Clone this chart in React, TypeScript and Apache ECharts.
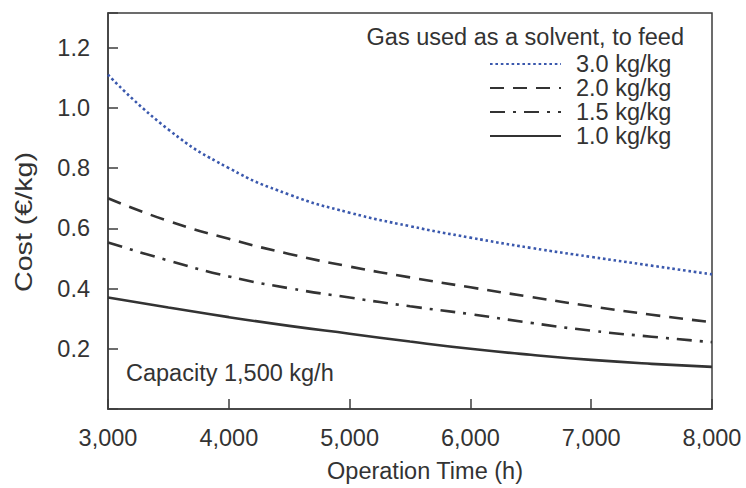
import React, { useEffect, useRef } from "react";
import * as echarts from "echarts";

const hours = [3000, 3500, 4000, 4500, 5000, 5500, 6000, 6500, 7000, 7500, 8000];
const gas30 = [1.11, 0.928, 0.8, 0.712, 0.652, 0.607, 0.569, 0.535, 0.505, 0.476, 0.447];
const gas20 = [0.7, 0.624, 0.565, 0.515, 0.473, 0.437, 0.404, 0.372, 0.341, 0.313, 0.288];
const gas15 = [0.553, 0.493, 0.44, 0.401, 0.37, 0.341, 0.315, 0.286, 0.26, 0.24, 0.222];
const gas10 = [0.37, 0.337, 0.305, 0.276, 0.25, 0.224, 0.2, 0.18, 0.163, 0.15, 0.14];
const seriesNames = ["3.0 kg/kg", "2.0 kg/kg", "1.5 kg/kg", "1.0 kg/kg"];
const legendTitle = "Gas used as a solvent, to feed";
const noteText = "Capacity 1,500 kg/h";
const xName = "Operation Time (h)";
const yName = "Cost (€/kg)";

const FONT = "Liberation Sans, Arial, Helvetica, sans-serif";
const FS = 23.5;
const TEXT = "#333333";
const AXIS = "#3d3d3d";

function pairs(vals: number[]) {
  return hours.map((h, i) => [h, vals[i]]);
}

export default function App() {
  const ref = useRef<HTMLDivElement>(null);
  useEffect(() => {
    if (!ref.current) return;
    const chart = echarts.init(ref.current, null, { renderer: "svg" });
    const styles = [
      { color: "#3a58ad", type: [2.6, 2.8], width: 2.6 },
      { color: "#333333", type: [14, 9], width: 2.6 },
      { color: "#333333", type: [15, 8, 3, 8], width: 2.6 },
      { color: "#333333", type: "solid", width: 2.6 },
    ];
    const datasets = [gas30, gas20, gas15, gas10];
    chart.setOption({
      animation: false,
      textStyle: { fontFamily: FONT, color: TEXT },
      grid: {
        left: 108,
        right: 34,
        top: 13,
        bottom: 78,
        show: true,
        borderColor: AXIS,
        borderWidth: 1.5,
        backgroundColor: "transparent",
      },
      legend: {
        orient: "vertical",
        left: 484,
        top: 47,
        itemWidth: 71,
        itemHeight: 14,
        itemGap: 0,
        data: seriesNames,
        itemStyle: { opacity: 0 },
        textStyle: {
          fontFamily: FONT,
          fontSize: FS,
          color: TEXT,
          lineHeight: 24,
          padding: [0, 0, 0, 10],
        },
      },
      xAxis: {
        type: "value",
        min: 3000,
        max: 8000,
        interval: 1000,
        name: xName,
        nameLocation: "middle",
        nameGap: 50,
        nameTextStyle: { fontSize: FS, color: TEXT, fontFamily: FONT, padding: [0, 0, 0, 30] },
        axisLine: { show: true, lineStyle: { color: AXIS, width: 1.5 } },
        axisTick: { show: true, inside: true, length: 10, lineStyle: { color: AXIS, width: 1.5 } },
        axisLabel: {
          fontSize: FS,
          color: TEXT,
          fontFamily: FONT,
          margin: 17,
          formatter: (v: number) => v.toLocaleString("en-US"),
        },
        splitLine: { show: false },
      },
      yAxis: {
        type: "value",
        min: 0,
        max: 1.315,
        interval: 0.2,
        axisLine: { show: true, lineStyle: { color: AXIS, width: 1.5 } },
        axisTick: { show: true, inside: true, length: 10, lineStyle: { color: AXIS, width: 1.5 } },
        axisLabel: {
          fontSize: FS,
          color: TEXT,
          fontFamily: FONT,
          margin: 18,
          formatter: (v: number) => {
            const k = Math.round(v / 0.2);
            if (k === 0 || Math.abs(v - k * 0.2) > 1e-6) return "";
            return v.toFixed(1);
          },
        },
        splitLine: { show: false },
      },
      series: datasets.map((d, i) => ({
        name: seriesNames[i],
        type: "line",
        smooth: true,
        showSymbol: false,
        symbol: "none",
        data: pairs(d),
        lineStyle: styles[i],
        itemStyle: { color: styles[i].color },
      })),
      graphic: [
        {
          type: "text",
          x: 684,
          y: 37,
          style: {
            text: legendTitle,
            font: `${FS}px ${FONT}`,
            fill: TEXT,
            textAlign: "right",
            textVerticalAlign: "middle",
          },
        },
        {
          type: "text",
          x: 126,
          y: 373,
          style: {
            text: noteText,
            font: `${FS}px ${FONT}`,
            fill: TEXT,
            textAlign: "left",
            textVerticalAlign: "middle",
          },
        },
        {
          type: "text",
          x: 24,
          y: 222,
          rotation: Math.PI / 2,
          scaleX: 1.22,
          style: {
            text: yName,
            font: `${FS}px ${FONT}`,
            fill: TEXT,
            textAlign: "center",
            textVerticalAlign: "middle",
          },
        },
      ],
    });
    return () => chart.dispose();
  }, []);
  return (
    <div
      ref={ref}
      style={{ position: "absolute", left: 0, top: 0, width: 746, height: 488 }}
    />
  );
}
